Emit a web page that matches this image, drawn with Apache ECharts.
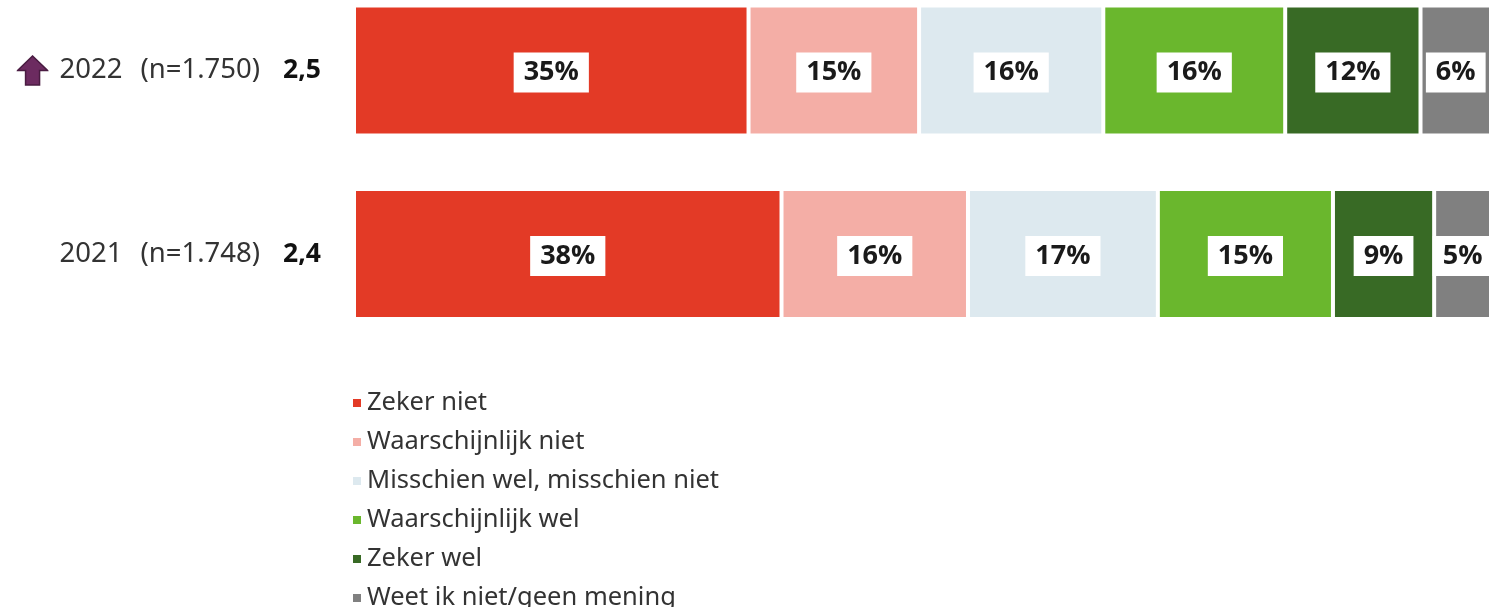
<!DOCTYPE html>
<html>
<head>
<meta charset="utf-8">
<script src="https://cdn.jsdelivr.net/npm/echarts@6/dist/echarts.min.js"></script>
<style>html,body{margin:0;padding:0;background:#fff}#c{width:1499px;height:607px}</style>
</head>
<body>
<div id="c"></div>
<script>
const years = ['2022', '2021'];
const sampleSizes = ['1.750', '1.748'];
const scores = ['2,5', '2,4'];
const upArrow = [true, false];
const seriesNames = ['Zeker niet', 'Waarschijnlijk niet', 'Misschien wel, misschien niet', 'Waarschijnlijk wel', 'Zeker wel', 'Weet ik niet/geen mening'];
const zekerNiet = [34.7, 37.6];
const waarschijnlijkNiet = [15.0, 16.4];
const misschien = [16.2, 16.7];
const waarschijnlijkWel = [16.0, 15.4];
const zekerWel = [11.9, 8.9];
const weetNiet = [6.2, 5.0];
const colors = ['#e33a26', '#f4aea6', '#dde9ef', '#6ab72d', '#386a25', '#808080'];

const values = [zekerNiet, waarschijnlijkNiet, misschien, waarschijnlijkWel, zekerWel, weetNiet];

const arrowSvg = 'data:image/svg+xml;utf8,' + encodeURIComponent(
  '<svg xmlns="http://www.w3.org/2000/svg" width="32" height="32" viewBox="0 0 32 32">' +
  '<path d="M16 1 L31 16 L23 16 L23 31 L9 31 L9 16 L1 16 Z" fill="#6c2b60" stroke="#4a1c42" stroke-width="1.5"/></svg>');

const chart = echarts.init(document.getElementById('c'));
chart.setOption({
  animation: false,
  grid: { left: 354, right: 8, top: 70.5, height: 183.5, containLabel: false },
  xAxis: { type: 'value', min: 0, max: 100, show: false },
  yAxis: {
    type: 'category',
    inverse: true,
    boundaryGap: false,
    data: years,
    axisLine: { show: false },
    axisTick: { show: false },
    splitLine: { show: false },
    axisLabel: {
      margin: 32,
      formatter: function (v, i) {
        return (upArrow[i] ? '{arr|}' : '') + '{y|' + v + '}{n|(n=' + sampleSizes[i] + ')}{s|' + scores[i] + '}';
      },
      rich: {
        arr: { width: 32, height: 31, backgroundColor: { image: arrowSvg } },
        y: { fontFamily: 'Noto Sans', fontSize: 27.5, color: '#333', padding: [0, 18, 0, 11] },
        n: { fontFamily: 'Noto Sans', fontSize: 27.5, color: '#333' },
        s: { fontFamily: 'Noto Sans', fontSize: 26.5, fontWeight: 'bold', color: '#111', width: 40, align: 'left', padding: [0, 0, 0, 22] }
      }
    }
  },
  legend: {
    orient: 'vertical',
    left: 346,
    top: 384,
    height: 240,
    itemWidth: 10,
    itemHeight: 10,
    itemGap: 11,
    icon: 'rect',
    data: seriesNames,
    textStyle: { fontFamily: 'Noto Sans', fontSize: 25.5, color: '#333', lineHeight: 28 }
  },
  series: seriesNames.map((name, k) => ({
    name: name,
    type: 'bar',
    stack: 'total',
    barWidth: 130,
    data: values[k],
    itemStyle: { color: colors[k], borderColor: '#fff', borderWidth: 2 },
    label: {
      show: true,
      position: 'inside',
      offset: [0, 2],
      formatter: p => Math.round(p.value) + '%',
      fontFamily: 'Open Sans',
      fontWeight: 'bold',
      fontSize: 27,
      color: '#1a1a1a',
      backgroundColor: '#fff',
      padding: [8, 10, 5, 10]
    }
  }))
});
</script>
</body>
</html>
